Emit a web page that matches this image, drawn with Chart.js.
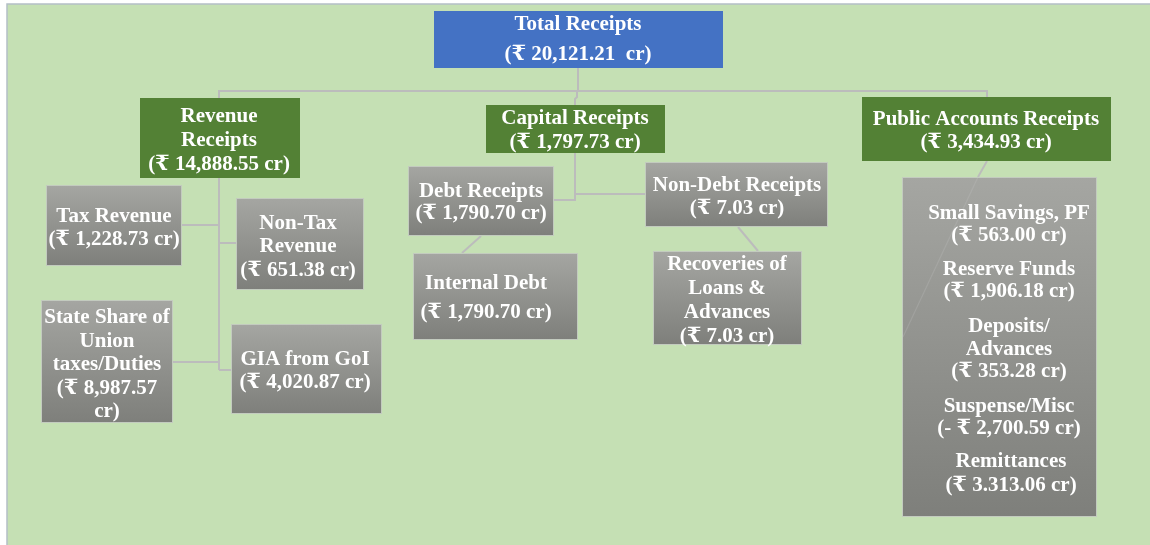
<!DOCTYPE html>
<html>
<head>
<meta charset="utf-8">
<script src="https://cdn.jsdelivr.net/npm/chart.js@4"></script>
<style>
  body { margin: 0; background: #ffffff; }
  canvas { display: block; }
</style>
</head>
<body>
<canvas id="tree" width="1150" height="545"></canvas>
<script>
// dados
const names = [
  ['Total Receipts'],
  ['Revenue', 'Receipts'],
  ['Capital Receipts'],
  ['Public Accounts Receipts'],
  ['Tax Revenue'],
  ['Non-Tax', 'Revenue'],
  ['State Share of', 'Union', 'taxes/Duties'],
  ['GIA from GoI'],
  ['Debt Receipts'],
  ['Non-Debt Receipts'],
  ['Internal Debt'],
  ['Recoveries of', 'Loans &', 'Advances'],
  ['Small Savings, PF'],
  ['Reserve Funds'],
  ['Deposits/', 'Advances'],
  ['Suspense/Misc'],
  ['Remittances']
];
const amounts = ['20,121.21', '14,888.55', '1,797.73', '3,434.93', '1,228.73', '651.38', '8,987.57',
  '4,020.87', '1,790.70', '7.03', '1,790.70', '7.03', '563.00', '1,906.18', '353.28', '-2,700.59', '3.313.06'];
const parents = [-1, 0, 0, 0, 1, 1, 1, 1, 2, 2, 8, 9, 3, 3, 3, 3, 3];

// layout: box [x0, y0, x1, y1] (null = shares the public accounts box), text centre, line height, style
const boxes = [
  [434, 11, 723, 68], [140, 98, 300, 178], [486, 105, 665, 153], [862, 97, 1111, 161],
  [46, 185, 182, 266], [236, 198, 364, 290], [41, 300, 173, 423], [231, 324, 382, 414],
  [408, 166, 554, 236], [645, 162, 828, 227], [413, 253, 578, 340], [653, 251, 802, 345],
  null, null, null, null, null
];
const textPos = [
  [578, 38, 30], [219, 139, 24], [575, 129, 24], [986, 129.5, 23],
  [114, 226.5, 23], [298, 245, 23.5], [107, 363, 23.5], [305, 369.5, 23],
  [481, 201, 22], [737, 195.5, 23], [486, 296.5, 29], [727, 298.5, 24],
  [1009, 223, 22], [1009, 279, 22], [1009, 347.5, 22.5], [1009, 416, 22], [1011, 472, 24]
];
const kind = ['blue', 'green', 'green', 'green', 'grey', 'grey', 'grey', 'grey', 'grey', 'grey', 'grey', 'grey',
  'list', 'list', 'list', 'list', 'list'];
const listBox = [902, 177, 1097, 517];
const connectors = [
  [[578, 68], [578, 91]],
  [[219, 98], [219, 91], [987, 91], [987, 97]],
  [[577, 91], [577, 97], [575, 99], [575, 105]],
  [[219, 178], [219, 370]],
  [[182, 225], [219, 225]],
  [[219, 243], [236, 243]],
  [[173, 362], [219, 362]],
  [[219, 370], [231, 370]],
  [[575, 153], [575, 200], [554, 200]],
  [[575, 194], [645, 194]],
  [[481, 236], [462, 253]],
  [[738, 227], [758, 251]]
];

const fills = { blue: '#4472c4', green: '#538135' };
const fontFamily = '"Liberation Serif", "Times New Roman", "DejaVu Serif", serif';

const diagram = {
  id: 'diagram',
  beforeDraw(chart) {
    const ctx = chart.ctx;
    const sx = chart.scales.x, sy = chart.scales.y;
    const px = v => sx.getPixelForValue(v), py = v => sy.getPixelForValue(v);
    ctx.save();
    ctx.fillStyle = '#c5e0b4';
    ctx.fillRect(px(7), py(4), px(1150) - px(7), py(545) - py(4));
    ctx.strokeStyle = '#b4bfc6';
    ctx.lineWidth = 1.5;
    ctx.beginPath();
    ctx.moveTo(px(7), py(545)); ctx.lineTo(px(7), py(4)); ctx.lineTo(px(1150), py(4));
    ctx.stroke();

    // connectors
    ctx.strokeStyle = '#bcbcbc';
    ctx.lineWidth = 2;
    connectors.forEach(path => {
      ctx.beginPath();
      path.forEach((p, i) => i ? ctx.lineTo(px(p[0]), py(p[1])) : ctx.moveTo(px(p[0]), py(p[1])));
      ctx.stroke();
    });
    ctx.beginPath();
    ctx.moveTo(px(987), py(161)); ctx.lineTo(px(978), py(177));
    ctx.stroke();
    ctx.restore();
  },
  afterDatasetsDraw(chart) {
    const ctx = chart.ctx;
    const sx = chart.scales.x, sy = chart.scales.y;
    const px = v => sx.getPixelForValue(v), py = v => sy.getPixelForValue(v);

    const greyBox = b => {
      const g = ctx.createLinearGradient(0, py(b[1]), 0, py(b[3]));
      g.addColorStop(0, '#a5a6a2');
      g.addColorStop(1, '#7e7f7b');
      ctx.fillStyle = g;
      ctx.fillRect(px(b[0]), py(b[1]), px(b[2]) - px(b[0]), py(b[3]) - py(b[1]));
      ctx.strokeStyle = '#c3cbbf';
      ctx.lineWidth = 1;
      ctx.strokeRect(px(b[0]) + 0.5, py(b[1]) + 0.5, px(b[2]) - px(b[0]) - 1, py(b[3]) - py(b[1]) - 1);
    };

    ctx.save();
    greyBox(listBox);
    // faint link running through the public accounts box
    ctx.strokeStyle = 'rgba(200,200,200,0.22)';
    ctx.lineWidth = 1.2;
    ctx.beginPath();
    ctx.moveTo(px(978), py(177)); ctx.lineTo(px(903), py(337));
    ctx.stroke();

    names.forEach((lines, i) => {
      const b = boxes[i];
      if (b) {
        if (kind[i] === 'grey') greyBox(b);
        else {
          ctx.fillStyle = fills[kind[i]];
          ctx.fillRect(px(b[0]), py(b[1]), px(b[2]) - px(b[0]), py(b[3]) - py(b[1]));
        }
      }
      const amt = amounts[i];
      let amtText = amt[0] === '-' ? '(- ₹ ' + amt.slice(1) + ' cr)' : '(₹ ' + amt + ' cr)';
      if (i === 0) amtText = '(₹ ' + amt + '  cr)';
      let all = lines.concat([amtText]);
      if (i === 6) all = lines.concat(['(₹ ' + amt, 'cr)']);
      const [cx, cy, lh] = textPos[i];
      ctx.font = 'bold 21px ' + fontFamily;
      ctx.fillStyle = '#ffffff';
      ctx.textAlign = 'center';
      ctx.textBaseline = 'middle';
      // middle baseline sits a little high for this face
      const top = cy + 2 - (all.length - 1) * lh / 2;
      all.forEach((t, k) => ctx.fillText(t, px(cx), py(top + k * lh)));
    });
    ctx.restore();
  }
};

new Chart(document.getElementById('tree'), {
  type: 'scatter',
  data: {
    datasets: [{
      data: textPos.map((p, i) => ({ x: p[0], y: p[1], parent: parents[i] })),
      pointRadius: 0,
      pointHoverRadius: 0
    }]
  },
  options: {
    responsive: false,
    animation: false,
    layout: { padding: 0 },
    scales: {
      x: { type: 'linear', min: 0, max: 1150, display: false },
      y: { type: 'linear', min: 0, max: 545, reverse: true, display: false }
    },
    plugins: {
      legend: { display: false },
      tooltip: { enabled: false }
    }
  },
  plugins: [diagram]
});
</script>
</body>
</html>
